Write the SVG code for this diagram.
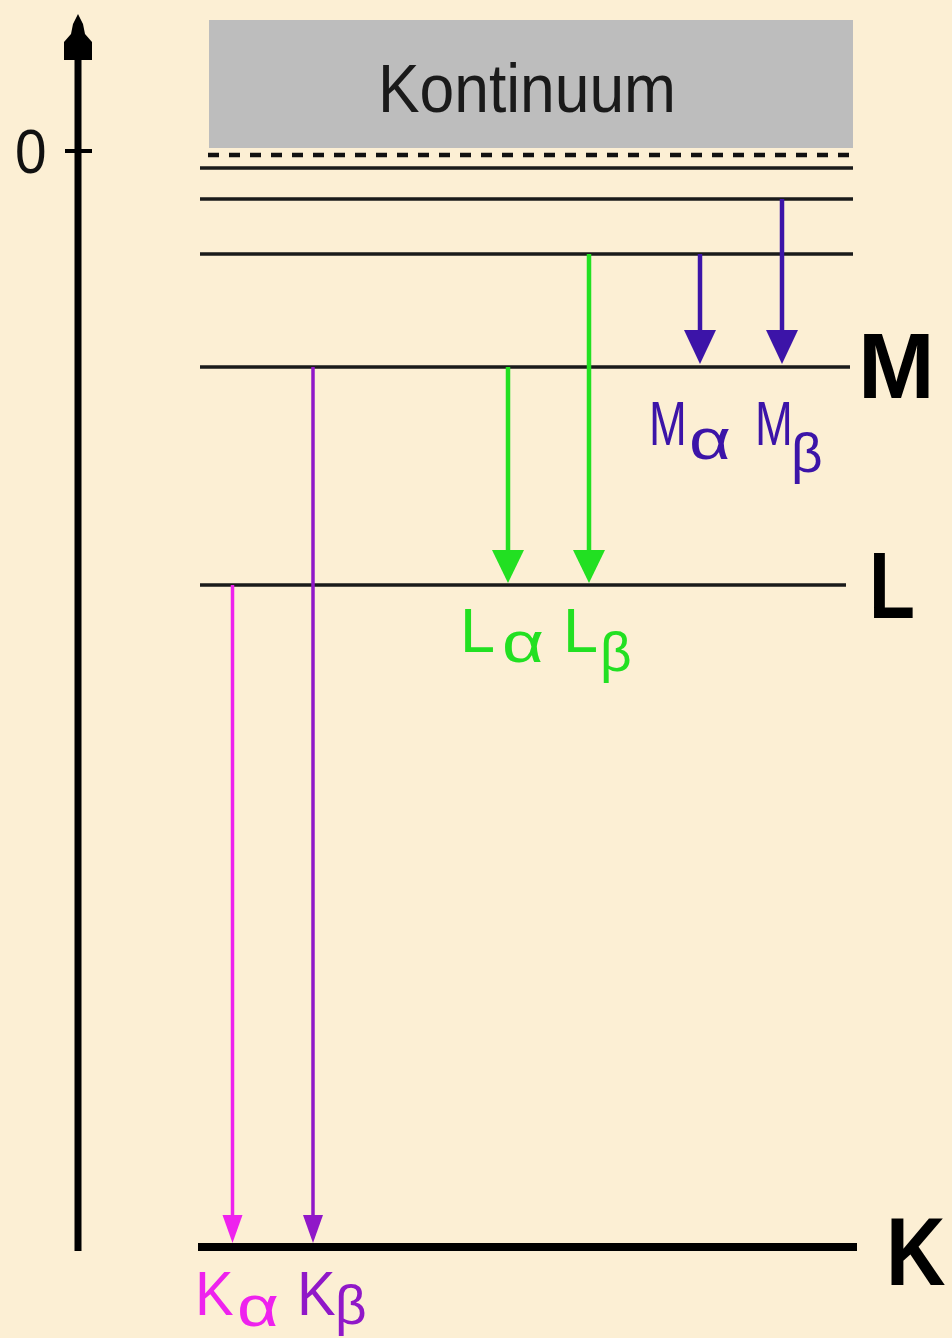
<svg xmlns="http://www.w3.org/2000/svg" width="952" height="1338" viewBox="0 0 952 1338">
<style>
.lvl{stroke:#1a1a1a;stroke-width:3.5;fill:none}
.t{font-family:"Liberation Sans",Arial,sans-serif;}
.big{font-family:"Liberation Sans",Arial,sans-serif;font-weight:bold;fill:#000}
.mc{stroke:#3c14a8;fill:#3c14a8}
.lc{stroke:#22e022;fill:#22e022}
.ka{stroke:#ee22ee;fill:#ee22ee}
.kb{stroke:#9018c8;fill:#9018c8}
</style>
<rect x="0" y="0" width="952" height="1338" fill="#fcefd4"/>
<g id="axis">
<line x1="78" y1="50" x2="78" y2="1251" stroke="#000" stroke-width="7"/>
<polygon points="78,14 83,24 85,34 92,42 92,60 64,60 64,42 71,34 73,24" fill="#000"/>
<line x1="65" y1="151" x2="92" y2="151" stroke="#000" stroke-width="4"/>
<text class="t" x="0" y="0" font-size="63" fill="#111" transform="translate(15,173) scale(0.9,1)">0</text>
</g>
<g id="kontinuum">
<rect x="209" y="20" width="644" height="128" fill="#bdbdbd"/>
<text class="t" x="378" y="112" font-size="68" fill="#1a1a1a" textLength="298" lengthAdjust="spacingAndGlyphs">Kontinuum</text>
<line x1="208" y1="155" x2="853" y2="155" stroke="#111" stroke-width="4.5" stroke-dasharray="11 10"/>
</g>
<g id="levels-upper">
<line class="lvl" x1="200" y1="168" x2="853" y2="168"/>
<line class="lvl" x1="200" y1="199" x2="853" y2="199"/>
<line class="lvl" x1="200" y1="254" x2="853" y2="254"/>
</g>
<g id="level-M">
<line class="lvl" x1="200" y1="367" x2="850" y2="367"/>
<text class="big" x="858" y="398" font-size="92">M</text>
</g>
<g id="level-L">
<line class="lvl" x1="200" y1="585" x2="846" y2="585"/>
<text class="big" x="0" y="0" font-size="94" transform="translate(869,618) scale(0.8,1)">L</text>
</g>
<g id="level-K">
<line x1="198" y1="1247" x2="857" y2="1247" stroke="#000" stroke-width="8"/>
<text class="big" x="0" y="0" font-size="97" transform="translate(886,1285) scale(0.85,1)">K</text>
</g>
<g id="connectors">
<g class="mc">
<line x1="700" y1="254" x2="700" y2="336" stroke-width="4.5"/>
<polygon points="684,330 716,330 700,364" stroke="none"/>
<line x1="782" y1="199" x2="782" y2="336" stroke-width="4.5"/>
<polygon points="766,330 798,330 782,364" stroke="none"/>
</g>
<g class="lc">
<line x1="508" y1="367" x2="508" y2="556" stroke-width="4.5"/>
<polygon points="492,550 524,550 508,583" stroke="none"/>
<line x1="589" y1="254" x2="589" y2="556" stroke-width="4.5"/>
<polygon points="573,550 605,550 589,583" stroke="none"/>
</g>
<g class="ka">
<line x1="232.5" y1="585" x2="232.5" y2="1220" stroke-width="3.5"/>
<polygon points="222.5,1215 242.5,1215 232.5,1243" stroke="none"/>
</g>
<g class="kb">
<line x1="313" y1="367" x2="313" y2="1220" stroke-width="3.5"/>
<polygon points="303,1215 323,1215 313,1243" stroke="none"/>
</g>
</g>
<g id="label-Ma" fill="#3c14a8">
<text class="t" x="0" y="0" font-size="63" transform="translate(649,445) scale(0.72,1)">M</text>
<text class="t" x="0" y="0" font-size="58" transform="translate(689,459) scale(1.25,1)">α</text>
</g>
<g id="label-Mb" fill="#3c14a8">
<text class="t" x="0" y="0" font-size="63" transform="translate(755,445) scale(0.72,1)">M</text>
<text class="t" x="791" y="472" font-size="55">β</text>
</g>
<g id="label-La" fill="#22e022">
<text class="t" x="460" y="652" font-size="63">L</text>
<text class="t" x="0" y="0" font-size="58" transform="translate(502,662) scale(1.25,1)">α</text>
</g>
<g id="label-Lb" fill="#22e022">
<text class="t" x="563" y="652" font-size="63">L</text>
<text class="t" x="600" y="671" font-size="55">β</text>
</g>
<g id="label-Ka" fill="#ee22ee">
<text class="t" x="0" y="0" font-size="63" transform="translate(195,1315) scale(0.92,1)">K</text>
<text class="t" x="0" y="0" font-size="58" transform="translate(237,1326) scale(1.25,1)">α</text>
</g>
<g id="label-Kb" fill="#9018c8">
<text class="t" x="0" y="0" font-size="63" transform="translate(297,1315) scale(0.92,1)">K</text>
<text class="t" x="335" y="1324" font-size="55">β</text>
</g>
</svg>
